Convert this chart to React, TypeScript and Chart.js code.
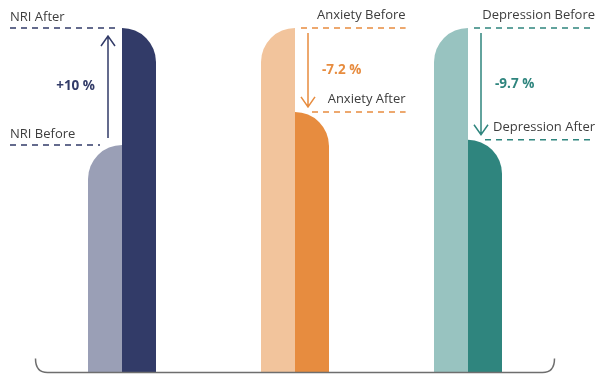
import React, { useEffect, useRef } from 'react';
import { Chart, registerables } from 'chart.js';

Chart.register(...registerables);

// ---- data ----
const categories = ['NRI', 'Anxiety', 'Depression'];
const beforeValues = [66, 100, 100];
const afterValues = [100, 75.6, 67.5];
const changeLabels = ['+10 %', '-7.2 %', '-9.7 %'];
const beforeLabels = ['NRI Before', 'Anxiety Before', 'Depression Before'];
const afterLabels = ['NRI After', 'Anxiety After', 'Depression After'];

// ---- styles ----
const beforeColors = ['#9a9fb6', '#f2c49c', '#98c3c0'];
const afterColors = ['#323b68', '#e78c3f', '#2f857e'];
const textColor = '#3d3d3d';
const labelFont = '13px "Open Sans"';
const pctFont = 'bold 13.5px "Open Sans"';

const roundedBars = {
  id: 'roundedBars',
  beforeDatasetDraw(chart: any, args: any) {
    const ctx = chart.ctx;
    const dsIndex = args.index;
    const meta = args.meta;
    meta.data.forEach((el: any, i: number) => {
      const { x, y, base, width } = el.getProps(['x', 'y', 'base', 'width'], true);
      const left = x - width / 2;
      const right = x + width / 2;
      const r = Math.min(width, base - y);
      ctx.save();
      ctx.beginPath();
      if (dsIndex === 0) {
        ctx.moveTo(right, base);
        ctx.lineTo(right, y);
        ctx.arc(right, y + r, r, -Math.PI / 2, Math.PI, true);
        ctx.lineTo(left, base);
      } else {
        ctx.moveTo(left, base);
        ctx.lineTo(left, y);
        ctx.arc(left, y + r, r, -Math.PI / 2, 0, false);
        ctx.lineTo(right, base);
      }
      ctx.closePath();
      ctx.fillStyle = dsIndex === 0 ? beforeColors[i] : afterColors[i];
      ctx.fill();
      ctx.restore();
    });
    return false;
  },
};

function dashLine(ctx: CanvasRenderingContext2D, x1: number, x2: number, y: number, color: string) {
  ctx.save();
  ctx.strokeStyle = color;
  ctx.lineWidth = 1.5;
  ctx.setLineDash([6, 5]);
  ctx.beginPath();
  ctx.moveTo(x1, y);
  ctx.lineTo(x2, y);
  ctx.stroke();
  ctx.restore();
}

function arrow(ctx: CanvasRenderingContext2D, x: number, yFrom: number, yTo: number, color: string) {
  const dir = yTo > yFrom ? 1 : -1;
  ctx.save();
  ctx.strokeStyle = color;
  ctx.lineWidth = 1.5;
  ctx.beginPath();
  ctx.moveTo(x, yFrom);
  ctx.lineTo(x, yTo);
  ctx.moveTo(x - 7, yTo - dir * 10);
  ctx.lineTo(x, yTo);
  ctx.lineTo(x + 7, yTo - dir * 10);
  ctx.stroke();
  ctx.restore();
}

const annotations = {
  id: 'annotations',
  afterDatasetsDraw(chart: any) {
    const ctx: CanvasRenderingContext2D = chart.ctx;
    const area = chart.chartArea;
    const W = chart.width;
    const mB = chart.getDatasetMeta(0).data;
    const mA = chart.getDatasetMeta(1).data;

    // axis line with curled ends
    const by = area.bottom + 0.5;
    const cr = 12;
    ctx.save();
    ctx.strokeStyle = '#6e6e6e';
    ctx.lineWidth = 1.5;
    ctx.beginPath();
    ctx.moveTo(area.left, by - 14);
    ctx.quadraticCurveTo(area.left, by, area.left + cr, by);
    ctx.lineTo(area.right - cr, by);
    ctx.quadraticCurveTo(area.right, by, area.right, by - 14);
    ctx.stroke();
    ctx.restore();

    categories.forEach((_c, i) => {
      const b = mB[i].getProps(['x', 'y', 'width'], true);
      const a = mA[i].getProps(['x', 'y', 'width'], true);
      const color = afterColors[i];
      const afterLeft = a.x - a.width / 2;
      const increase = afterValues[i] > beforeValues[i];
      ctx.save();
      if (increase) {
        const ax = afterLeft - 14;
        const xL = 10;
        dashLine(ctx, xL, afterLeft - 6, a.y, color);
        dashLine(ctx, xL, ax - 8, b.y, color);
        arrow(ctx, ax, b.y - 7, a.y + 8, color);
        ctx.fillStyle = textColor;
        ctx.font = labelFont;
        ctx.textAlign = 'left';
        ctx.textBaseline = 'alphabetic';
        ctx.fillText(afterLabels[i], xL, a.y - 7);
        ctx.fillText(beforeLabels[i], xL, b.y - 7);
        ctx.fillStyle = color;
        ctx.font = pctFont;
        ctx.textAlign = 'right';
        ctx.textBaseline = 'middle';
        ctx.fillText(changeLabels[i], ax - 13, (a.y + b.y) / 2);
      } else {
        const ax = afterLeft + 13;
        ctx.font = labelFont;
        const tw = ctx.measureText(beforeLabels[i]).width;
        const xR = Math.min(W - 7, ax + tw + 9);
        dashLine(ctx, ax - 7, xR, b.y, color);
        dashLine(ctx, ax + 4, xR, a.y, color);
        arrow(ctx, ax, b.y + 5, a.y - 5, color);
        ctx.fillStyle = textColor;
        ctx.textAlign = 'right';
        ctx.textBaseline = 'alphabetic';
        ctx.fillText(beforeLabels[i], xR, b.y - 9);
        ctx.fillText(afterLabels[i], xR, a.y - 9);
        ctx.fillStyle = color;
        ctx.font = pctFont;
        ctx.textAlign = 'left';
        ctx.textBaseline = 'middle';
        ctx.fillText(changeLabels[i], ax + 14, (a.y + b.y) / 2);
      }
      ctx.restore();
    });
  },
};

export default function App() {
  const ref = useRef<HTMLCanvasElement | null>(null);
  useEffect(() => {
    if (!ref.current) return;
    const chart = new Chart(ref.current, {
      type: 'bar',
      data: {
        labels: categories,
        datasets: [
          { label: 'Before', data: beforeValues, backgroundColor: beforeColors, barThickness: 34 },
          { label: 'After', data: afterValues, backgroundColor: afterColors, barThickness: 34 },
        ],
      },
      options: {
        animation: false,
        responsive: false,
        maintainAspectRatio: false,
        layout: { padding: { left: 35.5, right: 47.5, top: 28, bottom: 8 } },
        plugins: { legend: { display: false }, tooltip: { enabled: false } },
        scales: {
          x: { display: false, grid: { display: false } },
          y: { display: false, min: 0, max: 100 },
        },
      },
      plugins: [roundedBars, annotations],
    });
    return () => chart.destroy();
  }, []);
  return (
    <div style={{ position: 'fixed', left: 0, top: 0, width: 602, height: 380, background: '#fff' }}>
      <canvas ref={ref} width={602} height={380} style={{ display: 'block' }} />
    </div>
  );
}
